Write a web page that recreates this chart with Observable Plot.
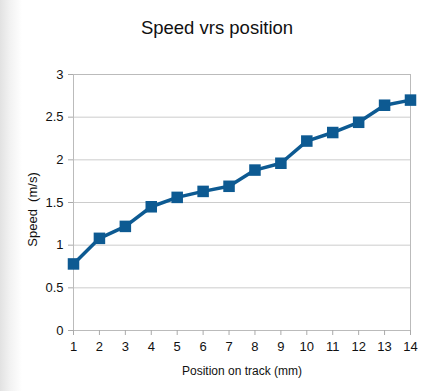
<!DOCTYPE html>
<html>
<head>
<meta charset="utf-8">
<script src="https://cdn.jsdelivr.net/npm/d3@7"></script>
<script src="https://cdn.jsdelivr.net/npm/@observablehq/plot@0.6"></script>
<style>
  html, body { margin: 0; padding: 0; }
  body {
    width: 434px; height: 391px; overflow: hidden;
    background: linear-gradient(to right, #e2e2e2 0px, #f2f2f2 10px, #ffffff 22px);
    font-family: "Liberation Sans", Arial, Helvetica, sans-serif;
  }
  #title {
    height: 50px; line-height: 55px; text-align: center;
    font-size: 18.5px; color: #111; padding-left: 0px;
  }
  #chart svg { display: block; }
</style>
</head>
<body>
<div id="title">Speed vrs position</div>
<div id="chart"></div>
<script>
const positions = [1, 2, 3, 4, 5, 6, 7, 8, 9, 10, 11, 12, 13, 14];
const speeds = [0.78, 1.08, 1.22, 1.45, 1.56, 1.63, 1.69, 1.88, 1.96, 2.22, 2.32, 2.44, 2.64, 2.70];
const yTicks = [0, 0.5, 1, 1.5, 2, 2.5, 3];
const xLabel = "Position on track (mm)";
const yLabel = "Speed  (m/s)";

const data = positions.map((p, i) => ({position: p, speed: speeds[i]}));
const lineColor = "#0d5a92";
const gridColor = "#cccccc";

const chart = Plot.plot({
  width: 434,
  height: 341,
  marginTop: 24,
  marginBottom: 61,
  marginLeft: 73,
  marginRight: 24,
  style: {fontFamily: "'Liberation Sans', Arial, Helvetica, sans-serif", background: "transparent", color: "#111"},
  x: {type: "linear", domain: [1, 14]},
  y: {type: "linear", domain: [0, 3]},
  marks: [
    Plot.ruleY(yTicks, {stroke: gridColor, strokeWidth: 1}),
    Plot.frame({stroke: "#bbbbbb", strokeWidth: 1}),
    Plot.axisY({ticks: yTicks, tickSize: 5, tickPadding: 5, stroke: "#aaaaaa", fontSize: 13, tickFormat: d => String(d), label: null}),
    Plot.axisX({ticks: positions, tickSize: 5, tickPadding: 6, stroke: "#aaaaaa", fontSize: 13, tickFormat: d => String(d), label: null}),
    Plot.text([xLabel], {frameAnchor: "bottom", dy: 44, fontSize: 12, fill: "#111"}),
    Plot.text([yLabel], {frameAnchor: "left", textAnchor: "middle", dx: -41, dy: 7, rotate: -90, fontSize: 13, fill: "#111"}),
    Plot.line(data, {x: "position", y: "speed", stroke: lineColor, strokeWidth: 3.5}),
    Plot.dot(data, {x: "position", y: "speed", symbol: "square", r: 6.5, fill: lineColor, stroke: "none"})
  ]
});
document.getElementById("chart").appendChild(chart);
</script>
</body>
</html>
